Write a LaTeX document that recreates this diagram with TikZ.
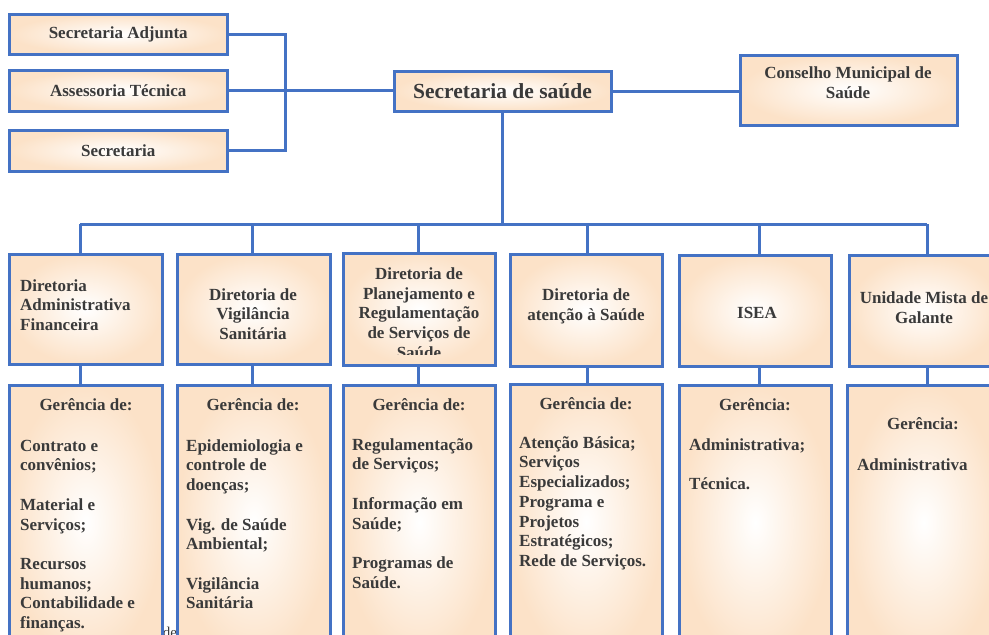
\documentclass[tikz,border=0pt]{standalone}
\usepackage{fontspec}
\setmainfont{Liberation Serif}
\usetikzlibrary{fit}
\definecolor{bl}{HTML}{4472C4}
\definecolor{peach}{HTML}{FCE2C8}
\definecolor{txt}{HTML}{3A3A3A}
\newcommand{\fstrut}{\rule{0pt}{13pt}}
\begin{document}
\begin{tikzpicture}[x=1pt,y=-1pt,
  box/.style={draw=bl, line width=3pt, inner color=white, outer color=peach, inner sep=0pt},
  conn/.style={draw=bl, line width=3pt},
  t/.style={font=\bfseries\fontsize{17}{19.7}\selectfont, text=txt, inner sep=0pt},
  tl/.style={t, align=left, anchor=north west},
  tc/.style={t, align=center},
]
\useasboundingbox (0,0) rectangle (989,635);
\node[font=\fontsize{15}{17}\selectfont, text=txt, anchor=base] (stray) at (170,637) {de};
% top boxes
\node[box, fit={(9.5,14.5) (227,54)}] (sa) {};
\node[box, fit={(9.5,70) (227,111)}] (at) {};
\node[box, fit={(9.5,130) (227,171)}] (sec) {};
\node[box, fit={(394,71) (611,111)}] (ss) {};
\node[box, fit={(740,55) (957,125)}] (cm) {};
% directorates
\node[box, fit={(9.5,254) (162,364)}] (d1) {};
\node[box, fit={(177.5,254) (330,364)}] (d2) {};
\node[box, fit={(343.5,253) (495,365)}] (d3) {};
\node[box, fit={(510,254) (662,366)}] (d4) {};
\node[box, fit={(679.5,255) (831,366)}] (d5) {};
\node[box, fit={(849.5,255) (1000,366)}] (d6) {};
% gerencias
\node[box, fit={(9.5,385) (162,660)}] (g1) {};
\node[box, fit={(177.5,385) (330,660)}] (g2) {};
\node[box, fit={(343.5,385) (495,660)}] (g3) {};
\node[box, fit={(510,384) (662,660)}] (g4) {};
\node[box, fit={(679.5,385) (831,660)}] (g5) {};
\node[box, fit={(847.5,385) (1000,660)}] (g6) {};
% connectors
\coordinate (bx) at (285,0);
\coordinate (bus) at (0,224);
\coordinate (c1) at (80,224);
\coordinate (c2) at (252,224);
\coordinate (c3) at (418,224);
\coordinate (c4) at (587,224);
\coordinate (c5) at (759,224);
\coordinate (c6) at (927,224);
\draw[conn] (sa.east) -- (sa.east -| bx) |- (sec.east);
\draw[conn] (at.east) -- (at.east -| ss.west);
\draw[conn] (ss.east) -- (ss.east -| cm.west);
\draw[conn] (ss.south) -- (ss.south |- bus);
\draw[conn] (c1) -- (c6);
\foreach \i in {1,...,6}{
  \draw[conn] (c\i) -- (c\i |- d\i.north);
  \draw[conn] (c\i |- d\i.south) -- (c\i |- g\i.north);
}
% texts top
\node[tc] (tsa) at (sa.center) {Secretaria Adjunta};
\node[tc] (tat) at (at.center) {Assessoria Técnica};
\node[tc] (tsec) at (sec.center) {Secretaria};
\node[tc, font=\bfseries\fontsize{21.5}{24}\selectfont] (tss) at (ss.center) {Secretaria de saúde};
\node[tc] (tcm) at (848,83) {Conselho Municipal de\\Saúde};
% directorate texts
\node[t, align=left, anchor=west] (td1) at (20,305) {Diretoria\\Administrativa\\Financeira};
\node[tc] (td2) at (253,314) {Diretoria de\\Vigilância\\Sanitária};
\begin{scope}
\clip (343,253) rectangle (495,354);
\node[tc] (td3) at (419,313) {Diretoria de\\Planejamento e\\Regulamentação\\de Serviços de\\Saúde};
\end{scope}
\node[tc] (td4) at (586,306) {Diretoria de\\atenção à Saúde};
\node[tc] (td5) at (757,313) {ISEA};
\node[tc] (td6) at (924,308) {Unidade Mista de\\Galante};
% gerencia texts
\node[t, anchor=base] (h1) at (86,410) {Gerência de:};
\node[tl] (l1) at (20,438) {\fstrut Contrato e\\convênios;\\[19.7pt]Material e\\Serviços;\\[19.7pt]Recursos\\humanos;\\Contabilidade e\\finanças.};
\node[t, anchor=base] (h2) at (253,410) {Gerência de:};
\node[tl] (l2) at (186,438) {\fstrut Epidemiologia e\\controle de\\doenças;\\[19.7pt]Vig. de Saúde\\Ambiental;\\[19.7pt]Vigilância\\Sanitária};
\node[t, anchor=base] (h3) at (419,410) {Gerência de:};
\node[tl] (l3) at (352,437) {\fstrut Regulamentação\\de Serviços;\\[19.7pt]Informação em\\Saúde;\\[19.7pt]Programas de\\Saúde.};
\node[t, anchor=base] (h4) at (586,409) {Gerência de:};
\node[tl] (l4) at (519,435) {\fstrut Atenção Básica;\\Serviços\\Especializados;\\Programa e\\Projetos\\Estratégicos;\\Rede de Serviços.};
\node[t, anchor=base] (h5) at (755,410) {Gerência:};
\node[tl] (l5) at (689,437) {\fstrut Administrativa;\\[19.7pt]Técnica.};
\node[t, anchor=base] (h6) at (923,429) {Gerência:};
\node[tl] (l6) at (857,457) {\fstrut Administrativa};
\end{tikzpicture}
\end{document}
